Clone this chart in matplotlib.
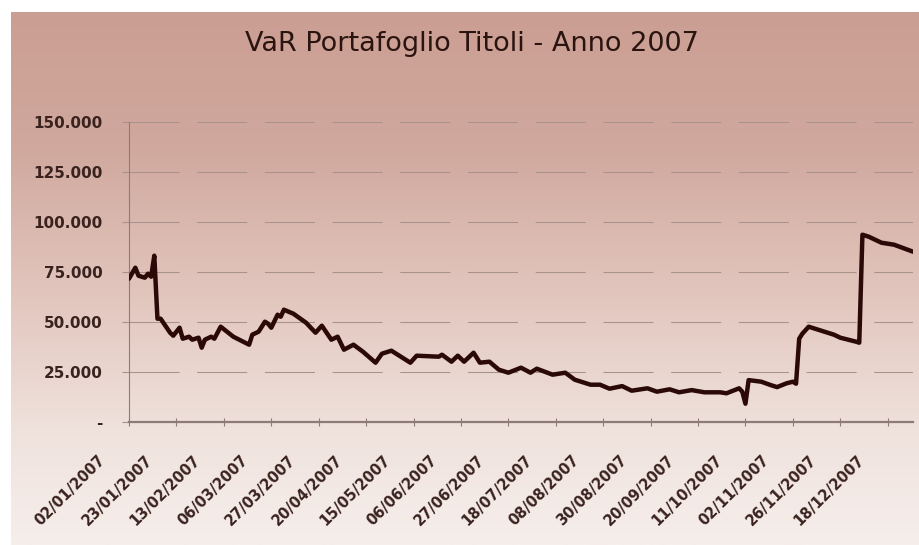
import matplotlib
matplotlib.use("Agg")
import matplotlib.pyplot as plt
import matplotlib.transforms as mtransforms
import numpy as np
from matplotlib.colors import LinearSegmentedColormap

# VaR series: trading-day index -> value (vertices of the line)
day_index = [0, 2, 3, 5, 6, 7, 8, 9, 10, 13, 14, 16, 17, 19, 20, 22, 23, 24, 26, 27,
             29, 33, 38, 39, 41, 43, 44, 45, 47, 48, 49, 52, 56, 59, 61, 64, 66, 68,
             71, 74, 78, 80, 83, 86, 89, 91, 98, 99, 102, 104, 106, 109, 111, 114,
             117, 120, 124, 127, 129, 134, 138, 141, 143, 146, 149, 152, 156, 159,
             164, 167, 171, 174, 178, 182, 187, 189, 193, 194, 195, 196, 200, 203,
             205, 208, 210, 211, 212, 213, 215, 218, 223, 225, 230, 231, 232, 234,
             238, 242, 248]
var_value = [71500, 77000, 73000, 72000, 74000, 72500, 83000, 51500, 51500, 44500,
             43000, 47000, 41500, 42500, 41000, 42000, 37000, 41000, 42500, 41500,
             47500, 42500, 38500, 43500, 45000, 50000, 49000, 47000, 53500, 52500,
             56000, 54000, 49500, 44500, 48000, 41000, 42500, 36000, 38500, 35000,
             29500, 34000, 35500, 32500, 29500, 33000, 32500, 33500, 30000, 33000,
             30000, 34500, 29500, 30000, 26000, 24500, 27000, 24500, 26500, 23500,
             24500, 21000, 20000, 18500, 18500, 16500, 17800, 15500, 16700, 15000,
             16200, 14700, 15800, 14700, 14700, 14200, 16700, 15000, 9000, 20800,
             20000, 18300, 17300, 19200, 20000, 19000, 41500, 44000, 47500, 46000,
             43500, 42000, 40000, 39500, 93500, 92500, 89500, 88500, 85000]

date_ticks = [0, 15, 30, 45, 60, 75, 90, 105, 120, 135, 150, 165, 180, 195, 210, 225, 240]
date_labels = ["02/01/2007", "23/01/2007", "13/02/2007", "06/03/2007", "27/03/2007",
               "20/04/2007", "15/05/2007", "06/06/2007", "27/06/2007", "18/07/2007",
               "08/08/2007", "30/08/2007", "20/09/2007", "11/10/2007", "02/11/2007",
               "26/11/2007", "18/12/2007"]
y_ticks = [0, 25000, 50000, 75000, 100000, 125000, 150000]
y_labels = ["-", "25.000", "50.000", "75.000", "100.000", "125.000", "150.000"]

TEXT = "#3a231e"
GRID = "#a8928c"

fig = plt.figure(figsize=(9.2, 5.45), dpi=100)

# rose -> white background gradient behind the whole chart area
bg = fig.add_axes([11 / 920, 0, 1 - 11 / 920, 1 - 12 / 545], zorder=-1)
cmap = LinearSegmentedColormap.from_list(
    "bg", [(0.0, "#cb9e93"), (0.25, "#d0a89d"), (0.55, "#e3c8c0"),
           (0.8, "#f0e3de"), (1.0, "#f6eeeb")])
bg.imshow(np.linspace(0, 1, 256).reshape(-1, 1), aspect="auto", cmap=cmap,
          extent=(0, 1, 0, 1))
bg.set_axis_off()

ax = fig.add_axes([129 / 920, 1 - 421.7 / 545, (913 - 129) / 920, 300 / 545])
ax.set_facecolor("none")
ax.plot(day_index, var_value, color="#2a0906", lw=3.2, solid_joinstyle="round",
        solid_capstyle="round", zorder=3)

ax.set_xlim(0, 248)
ax.set_ylim(0, 150000)
ax.set_yticks(y_ticks, y_labels)
ax.set_xticks(date_ticks, [""] * len(date_ticks))
for t in y_ticks[1:]:
    ax.axhline(t, color=GRID, lw=0.75, ls=(0, (48, 17)), zorder=1)

for side in ("top", "right"):
    ax.spines[side].set_visible(False)
ax.spines["left"].set_color("#8d7b76")
ax.spines["left"].set_linewidth(0.8)
ax.spines["bottom"].set_color("#8d7b76")
ax.spines["bottom"].set_linewidth(1.6)
ax.tick_params(axis="y", length=5, width=0.8, color=GRID, pad=14,
               labelsize=11, labelcolor=TEXT)
ax.tick_params(axis="x", direction="inout", length=6, width=0.8, color="#8d7b76")
for lab in ax.get_yticklabels():
    lab.set_fontweight("bold")

offset = mtransforms.ScaledTranslation(-0.26, -0.36, fig.dpi_scale_trans)
for pos, txt in zip(date_ticks, date_labels):
    ax.text(pos, 0, txt, transform=ax.get_xaxis_transform() + offset,
            rotation=45, rotation_mode="anchor", ha="right", va="center",
            fontsize=10.5, fontweight="bold", color=TEXT, clip_on=False)

fig.text(0.513, 0.919, "VaR Portafoglio Titoli - Anno 2007", ha="center",
         va="center", fontsize=19.5, color="#2a1410")

fig.savefig("out.png", dpi=100)
